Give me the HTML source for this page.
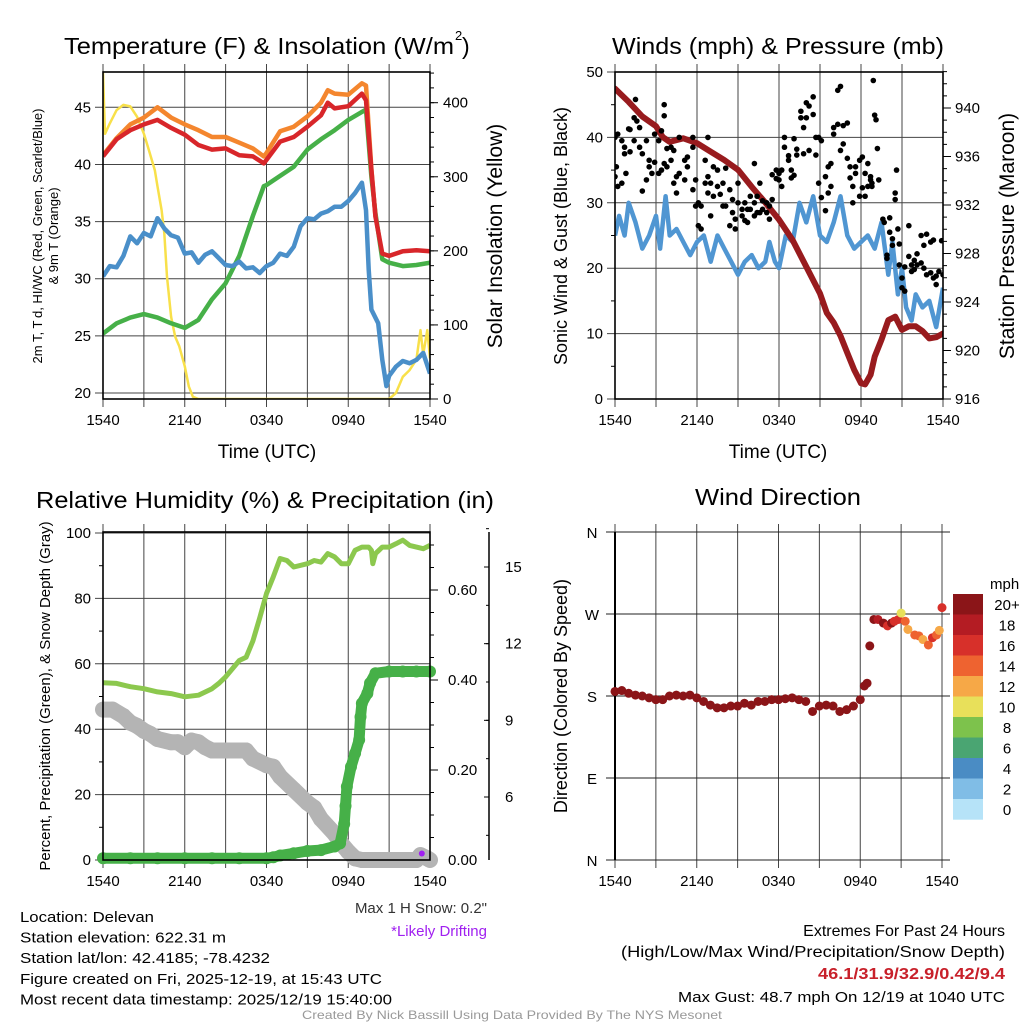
<!DOCTYPE html>
<html><head><meta charset="utf-8"><style>
html,body{margin:0;padding:0;background:#fff;}
svg{display:block;font-family:"Liberation Sans",sans-serif;}
</style></head><body>
<svg id="root" width="1024" height="1024" viewBox="0 0 1024 1024" xmlns="http://www.w3.org/2000/svg"></svg>
<script>
// ===== DATA =====
// Panel 1
const tempHours=[0,1,2,3,4,5,6,7,8,9,10,11,11.8,12,13,14,15,16,16.5,17,18,19,19.3,19.7,20,20.5,21,22,23,24];
const tempValues=[40.7,42.2,43.0,43.5,43.9,43.2,42.6,41.7,41.3,41.4,40.8,40.7,40.1,40.4,42.0,42.4,43.3,44.3,45.4,44.9,45.1,46.2,45.6,39.5,35.4,32.2,32.0,32.4,32.5,32.4];
const temp9mHours=[0,1,2,3,4,5,6,7,8,9,10,11,11.8,12,13,14,15,16,16.5,17,18,19,19.3,19.7,20];
const temp9mValues=[40.8,42.3,43.5,44.1,45.0,44.1,43.5,43.0,42.4,42.4,41.9,41.4,40.7,41.0,42.9,43.3,44.2,45.4,46.5,46.2,46.1,47.1,46.9,39.6,35.4];
const dewHours=[0,1,2,3,4,5,6,7,8,9,10,11,11.8,12,13,14,15,16,17,18,19,19.3,19.7,20,20.5,21,22,23,24];
const dewValues=[25.2,26.1,26.6,26.9,26.6,26.1,25.7,26.4,28.2,29.6,32.0,35.5,38.1,38.2,39.0,39.8,41.3,42.2,43.0,43.9,44.6,44.8,38.9,35.7,31.7,31.4,31.1,31.2,31.4];
const wcHours=[0,0.5,1,1.5,2,2.5,3,3.5,4,4.5,5,5.5,6,6.5,7,7.5,8,8.5,9,9.5,10,10.5,11,11.5,12,12.5,13,13.5,14,14.5,15,15.5,16,16.5,17,17.5,18,18.5,19,19.3,19.5,19.7,20.2,20.5,20.8,21,21.5,22,22.5,23,23.5,24];
const wcValues=[30.2,31.1,31.0,32.0,33.7,33.1,34.0,33.7,35.3,34.4,33.8,33.6,32.2,32.3,31.4,32.1,32.4,31.8,31.2,31.1,31.5,30.9,31.0,30.5,31.1,31.4,32.2,32.0,32.8,34.6,35.3,35.2,35.7,35.9,36.3,36.3,36.8,37.5,38.4,36.0,30.8,27.3,26.1,22.9,20.6,21.5,22.3,22.8,22.6,22.9,23.5,21.7];
const solarHours=[0,0.15,0.5,1,1.5,2,2.5,3,3.3,3.8,4,4.3,4.5,4.7,5,5.3,5.6,6,6.3,6.6,7,21,21.5,22,22.5,23,23.3,23.5,23.8,24];
const solarValues=[440,358,372,390,397,395,381,358,340,309,287,255,224,165,111,84,71,44,17,3,0,0,8,30,39,53,93,60,93,55];
// Panel 2
const presHours=[0,1,2,3,3.5,4,5,6,7,8,9,10,11,12,13,14,15,15.5,16,16.5,17,17.5,18,18.3,18.7,19,19.5,20,20.5,21,21.5,22,22.5,23,23.5,24];
const presValues=[941.6,940.5,939.3,938.5,937.6,937.2,937.5,937.1,936.4,935.7,934.9,933.5,932.2,930.8,929.1,926.9,924.7,923.1,922.3,921.2,919.8,918.4,917.3,917.2,918.0,919.5,920.9,922.5,922.8,921.7,922.0,922.0,921.6,921.0,921.1,921.4];
const windHours=[0,0.3,0.7,1,1.5,2,2.5,3,3.3,3.7,4,4.5,5,5.5,6,6.5,7,7.5,8,8.5,9,9.5,10,10.5,11,11.3,11.7,12,12.5,13,13.5,14,14.5,15,15.5,16,16.5,17,17.5,18,18.5,19,19.5,20,20.3,20.7,21,21.3,21.7,22,22.5,23,23.5,24];
const windValues=[25,28,25,30,27,23,25,28,23,31,25,26,24,22,24,25,21,25,23,21,19,21,22,20,21,24,21,20,25,24,30,27,31,25,24,27,31,25,23,24,25,23,27,19,24,16,20,14,12,16,14,15,11,17];
const gustPoints=[[0,40],[0,34],[0.1,35.5],[0.2,32.5],[0.2,40.5],[0.5,39.5],[0.5,33],[0.7,38.5],[0.7,37.5],[0.8,34.5],[1.0,41.3],[1.1,41.2],[1.1,37.8],[1.4,43],[1.4,39.5],[1.5,45.8],[1.6,42.5],[1.8,41.5],[1.8,38.5],[2.0,37.5],[2.0,31.8],[2.3,33.5],[2.3,39.5],[2.5,35.5],[2.5,36.5],[2.7,34.5],[2.9,40.5],[2.9,36.2],[3.2,39.5],[3.2,34.5],[3.4,41],[3.4,35],[3.6,45],[3.6,43.3],[3.6,36],[3.8,38.3],[3.8,35.5],[4.1,38.5],[4.1,36.5],[4.3,38],[4.3,33],[4.5,34],[4.5,31.5],[4.7,40],[4.7,34.5],[5.1,36.5],[5.1,33.5],[5.3,35.5],[5.3,37],[5.7,32],[5.7,40],[5.7,38.5],[5.9,33.5],[5.9,29.5],[6.1,30],[6.1,26.5],[6.3,29.5],[6.3,26],[6.6,36.5],[6.6,33],[6.8,40],[6.8,31.5],[6.8,34],[7.0,33],[7.0,28],[7.2,35.5],[7.2,31],[7.5,35],[7.5,32.5],[7.7,31.3],[7.9,33],[7.9,29.5],[8.1,35.3],[8.1,29.5],[8.4,32],[8.4,26.5],[8.6,30.5],[8.6,28.5],[8.8,27.5],[8.8,26],[9.0,30],[9.0,33],[9.3,29],[9.3,28],[9.5,30],[9.5,27.3],[9.7,29],[9.7,27],[9.9,31],[9.9,29],[10.2,36],[10.2,30],[10.2,28],[10.4,31],[10.4,28.5],[10.6,33],[10.6,28.5],[10.8,29],[10.8,30.3],[11.1,30],[11.1,28.5],[11.3,27.5],[11.3,29.5],[11.5,30.5],[11.5,34.3],[11.8,35],[11.8,33.7],[12.0,34.5],[12.0,33.5],[12.2,32.5],[12.2,35],[12.4,40],[12.4,38.5],[12.7,37.2],[12.7,36.5],[12.9,35],[12.9,33.8],[13.1,34.2],[13.1,39.8],[13.3,38.2],[13.3,37.3],[13.6,43],[13.6,44],[13.8,41.5],[13.8,37.5],[14.0,45.3],[14.0,43],[14.2,38],[14.2,44.8],[14.5,46.2],[14.5,43.5],[14.7,40],[14.7,37.3],[14.9,40],[14.9,33],[15.1,39.5],[15.1,30.8],[15.4,28.8],[15.4,34],[15.6,35.5],[15.6,31.5],[15.8,36],[15.8,32.5],[16.0,41.5],[16.0,40.5],[16.3,42],[16.3,47.2],[16.5,38],[16.5,47.8],[16.7,41.8],[16.7,39],[17.0,42.2],[17.0,36.8],[17.2,35.5],[17.2,33.8],[17.4,32.5],[17.4,30],[17.6,35.5],[17.6,34.5],[17.9,31],[17.9,36.5],[18.1,37],[18.1,32.3],[18.3,34.5],[18.3,31],[18.5,36],[18.5,32.5],[18.7,33.5],[18.7,34],[18.8,33],[18.8,32.5],[18.9,48.7],[19.0,43.4],[19.1,42.7],[19.2,38.3],[19.3,33.5],[19.6,27.5],[19.7,27],[19.9,22],[19.9,21.5],[20.1,27.7],[20.1,25.5],[20.3,24.5],[20.3,23.5],[20.5,31.5],[20.5,30.5],[20.6,35],[20.7,26],[20.8,23.7],[20.8,20.5],[21.0,17],[21.0,18.5],[21.2,20.2],[21.2,16.5],[21.5,21.8],[21.5,26.5],[21.7,20.5],[21.7,19.5],[21.9,21.2],[21.9,19.8],[22.1,20.5],[22.1,22.2],[22.4,25],[22.4,20.8],[22.6,20],[22.6,23.5],[22.8,19],[22.8,25.2],[23.1,24],[23.1,19.3],[23.3,18.5],[23.3,24.3],[23.5,18.8],[23.5,17.5],[23.7,19.5],[23.9,24.2],[24.0,19]];
// Panel 3
const rhHours=[0,1,2,3,4,5,6,7,8,8.5,9,10,10.5,11,11.5,12,12.5,13,13.5,14,15,15.5,16,16.5,17,17.5,18,18.5,19,19.5,19.7,19.8,20,20.5,21,21.5,22,22.5,23,23.5,24];
const rhValues=[54.2,54,53,52.4,51.4,50.9,49.9,50.4,52.4,54,56,61,62,67,74,81.5,86.6,92.2,91.6,89.6,90.6,91.6,91.1,93.7,92.7,90.6,90.6,94.7,95.7,95.7,94.7,90.6,93.7,95.7,95.7,96.7,97.8,96.2,95.7,95.2,96.2];
const precipHours=[0,2,4,6,8,10,12,12.5,13,14,15,16,17,17.4,17.7,17.8,17.9,18.2,18.5,18.8,18.9,19,19.4,19.6,20,21,22,23,24];
const precipValues=[0.004,0.004,0.004,0.004,0.004,0.004,0.004,0.006,0.01,0.015,0.02,0.022,0.03,0.037,0.08,0.12,0.163,0.207,0.237,0.267,0.318,0.348,0.37,0.393,0.415,0.419,0.419,0.419,0.419];
const snowHours=[0,0.7,1.5,2,2.5,3,3.5,4,5,5.5,6,6.5,7,7.5,8,9,10,10.5,11,12,12.5,13,14,15,15.5,16,17,17.5,18,18.5,19,20,21,22,23,23.3,23.8,24];
const snowValues=[46,46,44,42,41,39.5,38.5,37,36,36,34.5,36.5,36,34.5,33.5,33.5,33.5,33.5,31,29,28.5,25.5,21.5,17.5,16,12.5,8,5,2.5,0.5,0,0,0,0,0,1.5,0.5,0];
const driftHours=[23.4];
const driftValues=[2];
// Panel 4
const dirHours=[0,0.5,1,1.5,2,2.5,3,3.5,4,4.5,5,5.5,6,6.5,7,7.5,8,8.5,9,9.5,10,10.5,11,11.5,12,12.5,13,13.5,14,14.5,15,15.5,16,16.5,17,17.5,18,18.3,18.5,18.7,19,19.3,19.7,20,20.3,20.5,20.8,21,21.3,21.5,22,22.3,22.6,23,23.3,23.6,23.8,24];
const dirValues=[185,186,183,181,180,178,176,176,180,181,180,181,178,174,170,167,167,169,169,172,170,174,174,176,176,177,178,176,174,163,169,170,169,163,165,169,176,191,194,235,264,264,260,257,260,262,264,271,262,253,247,246,242,236,244,247,252,277];
const dirSpeeds=[21,21,21,21,21,21,21,21,21,21,21,21,21,21,21,21,21,21,21,21,21,21,21,21,21,21,21,21,21,21,21,21,21,21,21,21,21,21,21,21,21,19,20,17,21,17,16,10,15,12,14,14,13,15,17,14,12,17];
const speedBins=["0","2","4","6","8","10","12","14","16","18","20+"];
const binColors=["#b6e3f8","#80bde6","#4a8cc4","#4aa572","#7dc24c","#e8e05a","#f6a847","#ee6330","#d7302a","#b41c23","#8b1518"];
const timeLabels=["1540","2140","0340","0940","1540"];

// ===== DRAWING =====
const NS="http://www.w3.org/2000/svg";
const root=document.getElementById('root');
function mk(tag,attrs,parent){const e=document.createElementNS(NS,tag);for(const k in attrs)e.setAttribute(k,attrs[k]);(parent||root).appendChild(e);return e;}
function txt(s,x,y,size,opts,parent){opts=opts||{};const t=mk('text',{x:x,y:y,'font-size':size,fill:opts.fill||'#000','text-anchor':opts.anchor||'start'},parent);if(opts.weight)t.setAttribute('font-weight',opts.weight);if(opts.rot)t.setAttribute('transform','rotate('+opts.rot+' '+x+' '+y+')');if(opts.len){t.setAttribute('textLength',opts.len);t.setAttribute('lengthAdjust','spacingAndGlyphs');}t.textContent=s;return t;}
function lin(d0,d1,r0,r1){return v=>r0+(v-d0)/(d1-d0)*(r1-r0);}
function pathD(xs,ys,X,Y){return xs.map((h,i)=>(i?'L':'M')+X(h).toFixed(1)+' '+Y(ys[i]).toFixed(1)).join('');}

function frame(g,x0,x1,y0,y1,X){
  // vertical grid every 3h
  for(let h=0;h<=24;h+=3){const x=X(h);
    const l=mk('line',{x1:x,x2:x,y1:y0-8,y2:y1+8,stroke:'#444','stroke-width':1},g);
    }
  timeLabels.forEach((s,i)=>{const t=txt(s,X(i*6),y1+26,15,{anchor:'middle'},g);
    });
}
function hgrid(g,x0,x1,ys){ys.forEach(y=>{const l=mk('line',{x1:x0-8,x2:x1,y1:y,y2:y,stroke:'#444','stroke-width':1},g);});}
function box(g,x0,x1,y0,y1){const r=mk('rect',{x:x0,y:y0,width:x1-x0,height:y1-y0,fill:'none',stroke:'#000','stroke-width':1.6},g);}

// ---------- Panel 1 ----------
(function(){
const g=mk('g',{});
const x0=103,x1=430,y0=72,y1=399;
const X=lin(0,24,x0,x1), Y=lin(20,45,393,107.3), YS=lin(0,400,399,102.7);
const cp=mk('clipPath',{id:'c1'},g);mk('rect',{x:x0,y:y0,width:x1-x0,height:y1-y0},cp);
frame(g,x0,x1,y0,y1,X);
const gy=[];for(let v=20;v<=45;v+=5)gy.push(Y(v));hgrid(g,x0,x1,gy);
for(let v=0;v<=400;v+=100){mk('line',{x1:x1,x2:x1+8,y1:YS(v),y2:YS(v),stroke:'#000'},g);
  const t=txt(String(v),x1+13,YS(v)+5,15,{},g);}
for(let v=20;v<=440;v+=20)mk('line',{x1:x1,x2:x1+4,y1:YS(v),y2:YS(v),stroke:'#000'},g);
for(let v=20;v<=45;v+=5){const t=txt(String(v),x0-12,Y(v)+5,15,{anchor:'end'},g);}
const d=mk('g',{'clip-path':'url(#c1)'},g);
const series=[[solarHours,solarValues,'#f8e04a',2.5,YS,'solar-insolation-line'],[dewHours,dewValues,'#46b048',4.5,Y,'dewpoint-line'],[temp9mHours,temp9mValues,'#f4862e',4.5,Y,'temp-9m-line'],[tempHours,tempValues,'#d8262a',4.5,Y,'temp-2m-line'],[wcHours,wcValues,'#4a8fc9',4.5,Y,'wind-chill-line']];
series.forEach(s=>{const p=mk('path',{d:pathD(s[0],s[1],X,s[4]),fill:'none',stroke:s[2],'stroke-width':s[3],'stroke-linejoin':'round'},d);
  });
box(g,x0,x1,y0,y1);
let t=txt('Temperature (F) & Insolation (W/m',64,54,23,{len:390},g);
txt('2',455,40,13,{},g);txt(')',462,54,23,{},g);
t=txt('Time (UTC)',267,458,19,{anchor:'middle'},g);
t=txt('Solar Insolation (Yellow)',502,236,21,{anchor:'middle',rot:-90},g);
t=txt('2m T, T\u2009d, HI/WC (Red, Green, Scarlet/Blue)',42,236,13,{anchor:'middle',rot:-90},g);
t=txt('& 9m T (Orange)',58,236,13,{anchor:'middle',rot:-90},g);
})();

// ---------- Panel 2 ----------
(function(){
const g=mk('g',{});
const x0=615,x1=943,y0=72,y1=399;
const X=lin(0,24,x0,x1), Y=lin(0,50,399,72), YP=lin(916,940,399,108);
const cp=mk('clipPath',{id:'c2'},g);mk('rect',{x:x0,y:y0,width:x1-x0,height:y1-y0},cp);
frame(g,x0,x1,y0,y1,X);
const gy=[];for(let v=0;v<=50;v+=10)gy.push(Y(v));hgrid(g,x0,x1,gy);
for(let v=0;v<=50;v+=10){const t=txt(String(v),x0-12,Y(v)+5,15,{anchor:'end'},g);}
for(let v=5;v<50;v+=10)mk('line',{x1:x0-4,x2:x0,y1:Y(v),y2:Y(v),stroke:'#000'},g);
for(let v=916;v<=940;v+=4){mk('line',{x1:x1,x2:x1+8,y1:YP(v),y2:YP(v),stroke:'#000'},g);
  const t=txt(String(v),x1+12,YP(v)+5,15,{},g);}
for(let v=917;v<=943;v++)mk('line',{x1:x1,x2:x1+4,y1:YP(v),y2:YP(v),stroke:'#000'},g);
const d=mk('g',{'clip-path':'url(#c2)'},g);
let p=mk('path',{d:pathD(windHours,windValues,X,Y),fill:'none',stroke:'#5096d2','stroke-width':4.5,'stroke-linejoin':'round'},d);

p=mk('path',{d:pathD(presHours,presValues,X,YP),fill:'none',stroke:'#981b1e','stroke-width':6,'stroke-linejoin':'round','stroke-linecap':'round'},d);

gustPoints.forEach(q=>{const c=mk('circle',{cx:X(q[0]),cy:Y(q[1]),r:2.8,fill:'#000'},d);
  });
box(g,x0,x1,y0,y1);
let t=txt('Winds (mph) & Pressure (mb)',612,54,23,{len:332},g);
t=txt('Time (UTC)',778,458,19,{anchor:'middle'},g);
t=txt('Sonic Wind & Gust (Blue, Black)',567,236,18,{anchor:'middle',rot:-90},g);
t=txt('Station Pressure (Maroon)',1014,236,21,{anchor:'middle',rot:-90},g);
})();

// ---------- Panel 3 ----------
(function(){
const g=mk('g',{});
const x0=103,x1=430,y0=532,y1=860;
const X=lin(0,24,x0,x1), Y=lin(0,100,860,533), YP=lin(0,0.2,860,770);
const cp=mk('clipPath',{id:'c3'},g);mk('rect',{x:x0-8,y:y0-8,width:x1-x0+16,height:y1-y0+16},cp);
frame(g,x0,x1,y0,y1,X);
const gy=[];for(let v=0;v<=100;v+=20)gy.push(Y(v));hgrid(g,x0,x1,gy);
for(let v=0;v<=100;v+=20){const t=txt(String(v),x0-12,Y(v)+5,15,{anchor:'end'},g);}
for(let v=10;v<100;v+=20)mk('line',{x1:x0-4,x2:x0,y1:Y(v),y2:Y(v),stroke:'#000'},g);
for(let v=0;v<=0.6001;v+=0.2){mk('line',{x1:x1,x2:x1+8,y1:YP(v),y2:YP(v),stroke:'#000'},g);
  const t=txt(v.toFixed(2),x1+18,YP(v)+5,15,{},g);}
for(let v=0.05;v<0.73;v+=0.05)mk('line',{x1:x1,x2:x1+4,y1:YP(v),y2:YP(v),stroke:'#000'},g);
// snow depth secondary axis
mk('line',{x1:489,x2:489,y1:532,y2:860,stroke:'#000','stroke-width':1.5},g);
const snowTicks=[6,9,12,15], SY=lin(6,15,797,567);
snowTicks.forEach(v=>{mk('line',{x1:484,x2:489,y1:SY(v),y2:SY(v),stroke:'#000'},g);
  const t=txt(String(v),505,SY(v)+5,15,{},g);});
for(let v=4.5;v<=16.5;v+=1.5)mk('line',{x1:486,x2:489,y1:SY(v),y2:SY(v),stroke:'#000'},g);
const d=mk('g',{'clip-path':'url(#c3)'},g);
snowHours.forEach((h,i)=>{const c=mk('circle',{cx:X(h),cy:Y(snowValues[i]),r:8,fill:'#b4b4b4'},d);});
let p=mk('path',{d:pathD(snowHours,snowValues,X,Y),fill:'none',stroke:'#b4b4b4','stroke-width':16,'stroke-linejoin':'round'},d);

p=mk('path',{d:pathD(precipHours,precipValues,X,YP),fill:'none',stroke:'#46b048','stroke-width':11,'stroke-linejoin':'round','stroke-linecap':'round'},d);

precipHours.forEach((h,i)=>{const c=mk('circle',{cx:X(h),cy:YP(precipValues[i]),r:6,fill:'#46b048'},d);});
p=mk('path',{d:pathD(rhHours,rhValues,X,Y),fill:'none',stroke:'#8cc84e','stroke-width':5,'stroke-linejoin':'round'},d);

driftHours.forEach((h,i)=>{const c=mk('circle',{cx:X(h),cy:Y(driftValues[i]),r:3,fill:'#a020f0'},d);});
box(g,x0,x1,y0,y1);
let t=txt('Relative Humidity (%) & Precipitation (in)',36,508,23,{len:458},g);
t=txt('Percent, Precipitation (Green), & Snow Depth (Gray)',50,696,15,{anchor:'middle',rot:-90},g);
})();

// ---------- Panel 4 ----------
(function(){
const g=mk('g',{});
const x0=615,x1=942,y0=532,y1=860;
const X=lin(0,24,x0,x1), Y=lin(0,360,860,532);
frame(g,x0,x1,y0,y1,X);
const dirLabels=["N","E","S","W","N"];
const gy=[];dirLabels.forEach((s,i)=>{gy.push(Y(i*90));const t=txt(s,592,Y(i*90)+6,15,{anchor:'middle'},g);});
gy.forEach(y=>{const l=mk('line',{x1:606,x2:950,y1:y,y2:y,stroke:'#222','stroke-width':1},g);});
mk('line',{x1:x0,x2:x0,y1:y0,y2:y1,stroke:'#000','stroke-width':2},g);
dirHours.forEach((h,i)=>{const b=Math.min(10,Math.floor(dirSpeeds[i]/2));
  const c=mk('circle',{cx:X(h),cy:Y(dirValues[i]),r:4.5,fill:binColors[b]},g);
  });
// colorbar
const lg=mk('g',{},g);
txt('mph',990,589,15,{},lg);
speedBins.forEach((s,i)=>{const k=10-i;const y=594+i*20.5;
  const r=mk('rect',{x:953,y:y,width:30,height:20.7,fill:binColors[k]},lg);
  const t=txt(speedBins[k],1007,y+16,15,{anchor:'middle'},lg);});
let t=txt('Wind Direction',778,505,23,{anchor:'middle',len:166},g);
t=txt('Direction (Colored By Speed)',567,696,18,{anchor:'middle',rot:-90},g);
})();

// ---------- Footer text ----------
(function(){
const g=mk('g',{});
const L=[['Location: Delevan',134,'location-text'],['Station elevation: 622.31 m',206,'elevation-text'],['Station lat/lon: 42.4185; -78.4232',250,'latlon-text'],['Figure created on Fri, 2025-12-19, at 15:43 UTC',362,'created-text'],['Most recent data timestamp: 2025/12/19 15:40:00',372,'timestamp-text']];
L.forEach((a,i)=>{const t=txt(a[0],20,922+i*20.6,15,{len:a[1]},g);});
let t=txt('Max 1 H Snow: 0.2"',487,913,15,{anchor:'end',fill:'#333'},g);
t=txt('*Likely Drifting',487,936,15,{anchor:'end',fill:'#a020f0'},g);
t=txt('Extremes For Past 24 Hours',1005,936,16,{anchor:'end'},g);
t=txt('(High/Low/Max Wind/Precipitation/Snow Depth)',1005,957,16,{anchor:'end',len:384},g);
t=txt('46.1/31.9/32.9/0.42/9.4',1005,979,16,{anchor:'end',fill:'#c8202a',weight:'bold',len:187},g);
t=txt('Max Gust: 48.7 mph On 12/19 at 1040 UTC',1005,1002,15,{anchor:'end',len:327},g);
t=txt('Created By Nick Bassill Using Data Provided By The NYS Mesonet',512,1019,12,{anchor:'middle',fill:'#999',len:420},g);
})();
</script>
</body></html>
